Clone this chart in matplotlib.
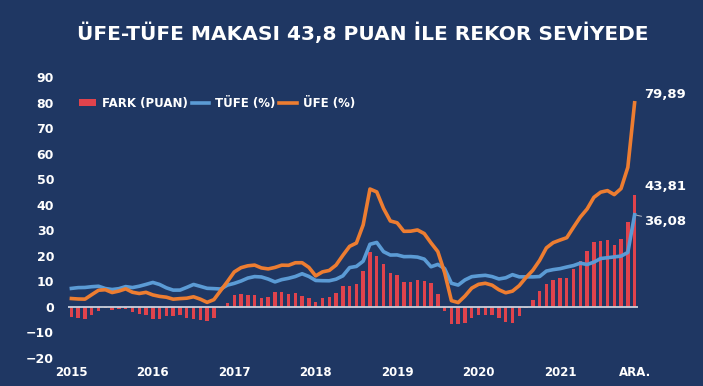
import matplotlib
matplotlib.use("Agg")
import matplotlib.pyplot as plt
from matplotlib.patches import Patch
from matplotlib.lines import Line2D

# Monthly data, Jan 2015 - Dec 2021 (annual % change)
tufe = [7.24, 7.55, 7.61, 7.91, 8.09, 7.20, 6.81, 7.14, 7.95, 7.58, 8.10, 8.81,
        9.58, 8.78, 7.46, 6.57, 6.58, 7.64, 8.79, 8.05, 7.28, 7.16, 7.00, 8.53,
        9.22, 10.13, 11.29, 11.87, 11.72, 10.90, 9.79, 10.68, 11.20, 11.90, 12.98, 11.92,
        10.35, 10.26, 10.23, 10.85, 12.15, 15.39, 15.85, 17.90, 24.52, 25.24, 21.62, 20.30,
        20.35, 19.67, 19.71, 19.50, 18.71, 15.72, 16.65, 15.01, 9.26, 8.55, 10.56, 11.84,
        12.15, 12.37, 11.86, 10.94, 11.39, 12.62, 11.76, 11.77, 11.75, 11.89, 14.03, 14.60,
        14.97, 15.61, 16.19, 17.14, 16.59, 17.53, 18.95, 19.25, 19.58, 19.89, 21.31, 36.08]

ufe = [3.28, 3.10, 3.04, 4.80, 6.52, 6.73, 5.62, 6.21, 7.08, 5.74, 5.25, 5.71,
       4.69, 4.12, 3.80, 3.03, 3.25, 3.41, 3.96, 3.03, 1.78, 2.84, 6.41, 9.94,
       13.69, 15.36, 16.09, 16.37, 15.26, 14.87, 15.45, 16.34, 16.28, 17.28, 17.30, 15.47,
       12.14, 13.71, 14.28, 16.37, 20.16, 23.71, 25.00, 32.13, 46.15, 45.01, 38.54, 33.64,
       32.93, 29.59, 29.64, 30.12, 28.71, 25.04, 21.66, 13.45, 2.45, 1.70, 4.26, 7.36,
       8.84, 9.26, 8.50, 6.71, 5.53, 6.17, 8.33, 11.53, 14.33, 18.20, 23.11, 25.15,
       26.16, 27.09, 31.20, 35.17, 38.33, 42.89, 44.92, 45.52, 43.96, 46.31, 54.62, 79.89]

fark = [-3.96, -4.45, -4.57, -3.11, -1.57, -0.47, -1.19, -0.93, -0.87, -1.84, -2.85, -3.10,
        -4.89, -4.66, -3.66, -3.54, -3.33, -4.23, -4.83, -5.02, -5.50, -4.32, -0.59, 1.41,
        4.47, 5.23, 4.80, 4.50, 3.54, 3.97, 5.66, 5.66, 5.08, 5.38, 4.32, 3.55,
        1.79, 3.45, 4.05, 5.52, 8.01, 8.32, 9.15, 14.23, 21.63, 19.77, 16.92, 13.34,
        12.58, 9.92, 9.93, 10.62, 10.00, 9.32, 5.01, -1.56, -6.81, -6.85, -6.30, -4.48,
        -3.31, -3.11, -3.36, -4.23, -5.86, -6.45, -3.43, -0.24, 2.58, 6.31, 9.08, 10.55,
        11.19, 11.48, 15.01, 18.03, 21.74, 25.36, 25.97, 26.27, 24.38, 26.42, 33.31, 43.81]

year_labels = ["2015", "2016", "2017", "2018", "2019", "2020", "2021", "ARA."]
title = "ÜFE-TÜFE MAKASI 43,8 PUAN İLE REKOR SEVİYEDE"

BG = "#1f3763"
RED = "#e0434c"
BLUE = "#5b9bd5"
ORANGE = "#ed7d31"
WHITE = "#ffffff"

plt.rcParams['font.family'] = ['DejaVu Sans']

fig = plt.figure(figsize=(7.03, 3.86), dpi=100, facecolor=BG)
ax = fig.add_axes([68/703, 28/386, 570/703, 281/386])
ax.set_facecolor(BG)

x = list(range(len(tufe)))
ax.bar(x, fark, width=0.5, color=RED, zorder=2)
ax.axhline(0, color="#c9d0dc", lw=1.3, zorder=3)
ax.plot(x, tufe, color=BLUE, lw=2.6, zorder=4, solid_joinstyle='round')
ax.plot(x, ufe, color=ORANGE, lw=2.6, zorder=5, solid_joinstyle='round')

ax.set_xlim(-0.5, len(x) - 0.5)
ax.set_ylim(-20, 90)
ax.set_yticks(range(-20, 91, 10))
ax.set_xticks([0, 12, 24, 36, 48, 60, 72, 83])
ax.set_xticklabels(year_labels)
for s in ax.spines.values():
    s.set_visible(False)
ax.tick_params(axis='y', length=0, pad=10, labelsize=9, labelcolor=WHITE)
ax.tick_params(axis='x', length=0, pad=6, labelsize=8.5, labelcolor=WHITE)
for lab in ax.get_xticklabels() + ax.get_yticklabels():
    lab.set_fontweight('bold')

# end labels
last = len(x) - 1
ax.annotate("79,89", (last, ufe[-1]), xytext=(7, 6), textcoords='offset points',
            color=WHITE, fontsize=9.5, fontweight='bold', va='center', ha='left')
ax.annotate("43,81", (last, fark[-1]), xytext=(7, 6), textcoords='offset points',
            color=WHITE, fontsize=9.5, fontweight='bold', va='center', ha='left')
ax.annotate("36,08", (last, tufe[-1]), xytext=(7, -5), textcoords='offset points',
            color=WHITE, fontsize=9.5, fontweight='bold', va='center', ha='left',
            arrowprops=dict(arrowstyle='-', color="#a0a8b8", lw=0.8, shrinkA=0, shrinkB=1))

handles = [Patch(facecolor=RED, edgecolor='none'),
           Line2D([0], [0], color=BLUE, lw=2.6),
           Line2D([0], [0], color=ORANGE, lw=2.6)]
leg = fig.legend(handles, ["FARK (PUAN)", "TÜFE (%)", "ÜFE (%)"], ncol=3,
                 loc='center left', bbox_to_anchor=(74/703, 1 - 103/386),
                 frameon=False, handlelength=1.5, handleheight=0.6,
                 handletextpad=0.5, columnspacing=0.3, borderaxespad=0,
                 prop={'weight': 'bold', 'size': 8.5})
for t in leg.get_texts():
    t.set_color(WHITE)

fig.text(363/703, 1 - 33/386, title, color=WHITE, fontsize=14.5, fontweight='bold',
         ha='center', va='center')

fig.savefig("out.png", dpi=100, facecolor=BG)
